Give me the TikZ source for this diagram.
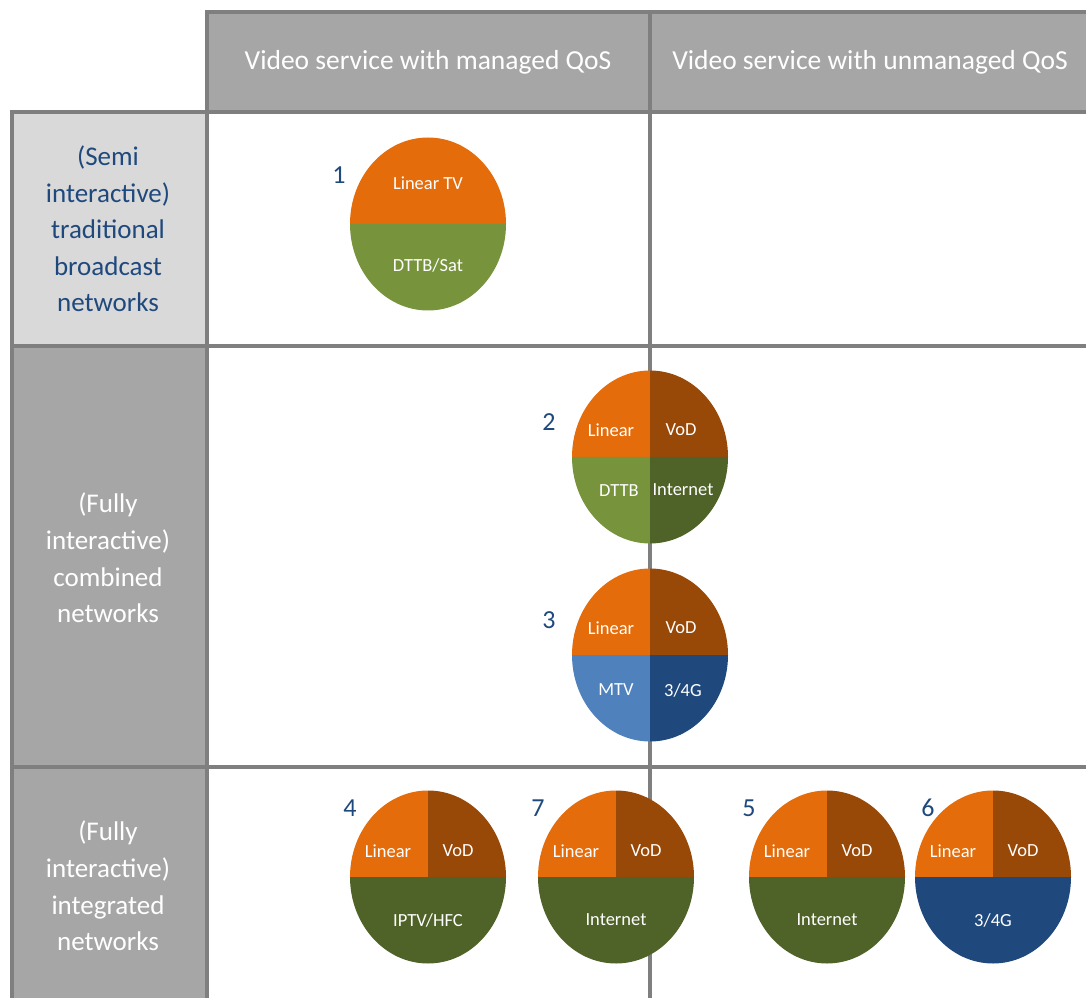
\documentclass[tikz,border=0pt]{standalone}
\usepackage{fontspec}
\setmainfont{Carlito}
\definecolor{gridgray}{HTML}{7F7F7F}
\definecolor{headgray}{HTML}{A6A6A6}
\definecolor{palegray}{HTML}{D9D9D9}
\definecolor{linorange}{HTML}{E46C0A}
\definecolor{vodbrown}{HTML}{984807}
\definecolor{olivelt}{HTML}{77933C}
\definecolor{olivedk}{HTML}{4F6228}
\definecolor{bluelt}{HTML}{4F81BD}
\definecolor{bluedk}{HTML}{1F497D}
\begin{document}
\begin{tikzpicture}[x=1pt, y=1pt, x radius=78, y radius=86.5,
	lbl/.style={text=white, inner sep=0pt, font=\fontsize{18.5}{22}\selectfont},
	num/.style={text=bluedk, inner sep=0pt, font=\fontsize{26}{30}\selectfont},
	hdr/.style={text=white, font=\fontsize{27.5}{33}\selectfont},
	side/.style={align=center, font=\fontsize{27}{36.6}\selectfont}]
	\useasboundingbox (0,0) rectangle (1086,997);
	\clip (0,0) rectangle (1086,997);
	% table cells
	\fill[headgray] (207,885) rectangle (1100,985);
	\fill[palegray] (12,651) rectangle (207,885);
	\fill[headgray] (12,-10) rectangle (207,651);
	\draw[gridgray, line width=4.5] (207,-10) -- (207,985) -- (1100,985);
	\draw[gridgray, line width=4.5] (12,-10) -- (12,885) -- (1100,885);
	\draw[gridgray, line width=4.5] (650,-10) -- (650,985);
	\draw[gridgray, line width=4.5] (12,651) -- (1100,651);
	\draw[gridgray, line width=4.5] (12,230) -- (1100,230);
	\node[hdr] (managed) at (428,935) {Video service with managed QoS};
	\node[hdr] (unmanaged) at (870,935) {Video service with unmanaged QoS};
	\node[side, text=bluedk] (trad) at (108,768) {(Semi\\interactive)\\traditional\\broadcast\\networks};
	\node[side, text=white] (comb) at (108,439) {(Fully\\interactive)\\combined\\networks};
	\node[side, text=white] (integ) at (108,111) {(Fully\\interactive)\\integrated\\networks};
	% 1: broadcast only
	\begin{scope}[shift={(428,773)}]
		\fill[linorange] (-78,0) arc[start angle=180, end angle=0] -- cycle;
		\fill[olivelt] (-78,0) arc[start angle=180, end angle=360] -- cycle;
		\node[lbl] (tv1) at (0,41) {Linear TV};
		\node[lbl] (sat1) at (0,-41) {DTTB/Sat};
		\node[num] (n1) at (-89,49) {1};
	\end{scope}
	% 2: DTTB + internet
	\begin{scope}[shift={(650,540)}]
		\fill[linorange] (0,0) -- (-78,0) arc[start angle=180, end angle=90] -- cycle;
		\fill[vodbrown] (0,0) -- (0,86.5) arc[start angle=90, end angle=0] -- cycle;
		\fill[olivelt] (0,0) -- (-78,0) arc[start angle=180, end angle=270] -- cycle;
		\fill[olivedk] (0,0) -- (0,-86.5) arc[start angle=270, end angle=360] -- cycle;
		\node[lbl] (lin2) at (-39,27) {Linear};
		\node[lbl] (vod2) at (31,27) {VoD};
		\node[lbl] (dttb2) at (-31,-34) {DTTB};
		\node[lbl] (net2) at (33,-33) {Internet};
		\node[num] (n2) at (-101,35) {2};
	\end{scope}
	% 3: MTV + 3/4G
	\begin{scope}[shift={(650,342)}]
		\fill[linorange] (0,0) -- (-78,0) arc[start angle=180, end angle=90] -- cycle;
		\fill[vodbrown] (0,0) -- (0,86.5) arc[start angle=90, end angle=0] -- cycle;
		\fill[bluelt] (0,0) -- (-78,0) arc[start angle=180, end angle=270] -- cycle;
		\fill[bluedk] (0,0) -- (0,-86.5) arc[start angle=270, end angle=360] -- cycle;
		\node[lbl] (lin3) at (-39,27) {Linear};
		\node[lbl] (vod3) at (31,27) {VoD};
		\node[lbl] (mtv3) at (-34,-35) {MTV};
		\node[lbl] (g3) at (33,-35) {3/4G};
		\node[num] (n3) at (-101,35) {3};
	\end{scope}
	% 4: IPTV/HFC
	\begin{scope}[shift={(428,120)}]
		\fill[linorange] (0,0) -- (-78,0) arc[start angle=180, end angle=90] -- cycle;
		\fill[vodbrown] (0,0) -- (0,86.5) arc[start angle=90, end angle=0] -- cycle;
		\fill[olivedk] (-78,0) arc[start angle=180, end angle=360] -- cycle;
		\node[lbl] (lin4) at (-40,26) {Linear};
		\node[lbl] (vod4) at (30,26) {VoD};
		\node[lbl] (iptv4) at (0,-43) {IPTV/HFC};
		\node[num] (n4) at (-78,69) {4};
	\end{scope}
	% 7: internet, managed
	\begin{scope}[shift={(616,120)}]
		\fill[linorange] (0,0) -- (-78,0) arc[start angle=180, end angle=90] -- cycle;
		\fill[vodbrown] (0,0) -- (0,86.5) arc[start angle=90, end angle=0] -- cycle;
		\fill[olivedk] (-78,0) arc[start angle=180, end angle=360] -- cycle;
		\node[lbl] (lin7) at (-40,26) {Linear};
		\node[lbl] (vod7) at (30,26) {VoD};
		\node[lbl] (net7) at (0,-43) {Internet};
		\node[num] (n7) at (-78,69) {7};
	\end{scope}
	% 5: internet, unmanaged
	\begin{scope}[shift={(827,120)}]
		\fill[linorange] (0,0) -- (-78,0) arc[start angle=180, end angle=90] -- cycle;
		\fill[vodbrown] (0,0) -- (0,86.5) arc[start angle=90, end angle=0] -- cycle;
		\fill[olivedk] (-78,0) arc[start angle=180, end angle=360] -- cycle;
		\node[lbl] (lin5) at (-40,26) {Linear};
		\node[lbl] (vod5) at (30,26) {VoD};
		\node[lbl] (net5) at (0,-43) {Internet};
		\node[num] (n5) at (-78,69) {5};
	\end{scope}
	% 6: 3/4G
	\begin{scope}[shift={(993,120)}]
		\fill[linorange] (0,0) -- (-78,0) arc[start angle=180, end angle=90] -- cycle;
		\fill[vodbrown] (0,0) -- (0,86.5) arc[start angle=90, end angle=0] -- cycle;
		\fill[bluedk] (-78,0) arc[start angle=180, end angle=360] -- cycle;
		\node[lbl] (lin6) at (-40,26) {Linear};
		\node[lbl] (vod6) at (30,26) {VoD};
		\node[lbl] (g6) at (0,-43) {3/4G};
		\node[num] (n6) at (-65,69) {6};
	\end{scope}
\end{tikzpicture}
\end{document}
